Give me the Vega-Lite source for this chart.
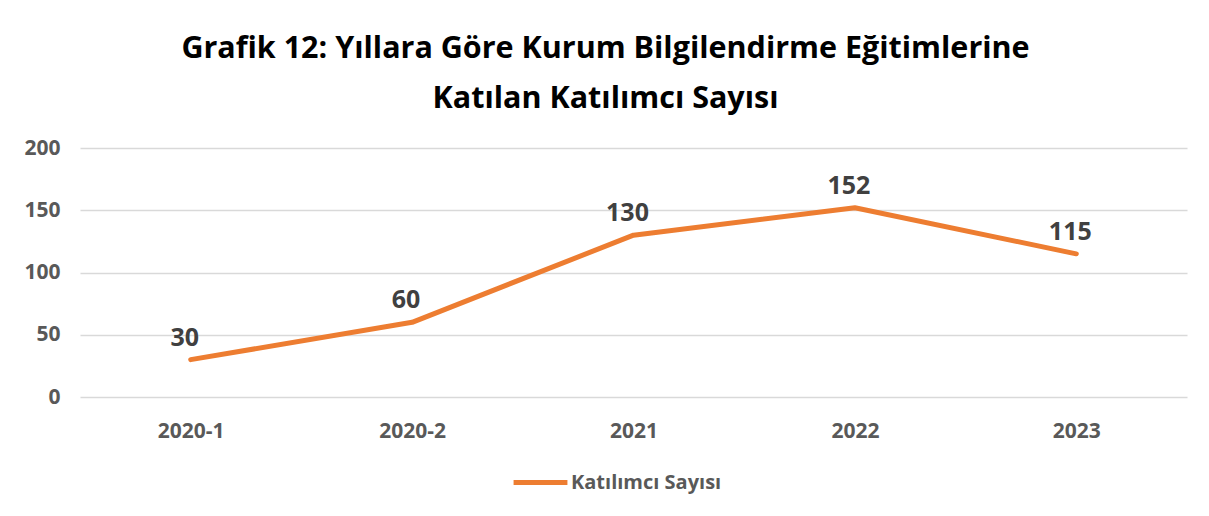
{
  "$schema": "https://vega.github.io/schema/vega-lite/v6.json",
  "width": 1107,
  "height": 249,
  "autosize": {"type": "none"},
  "padding": {"left": 80, "top": 148, "right": 22, "bottom": 119},
  "background": "white",
  "title": {
    "text": ["Grafik 12: Yıllara Göre Kurum Bilgilendirme Eğitimlerine", "Katılan Katılımcı Sayısı"],
    "anchor": "middle",
    "frame": "group",
    "dx": -28,
    "offset": 23,
    "font": "Open Sans",
    "fontWeight": "bold",
    "fontSize": 30.5,
    "lineHeight": 50,
    "color": "#000000"
  },
  "data": {
    "values": [
      {"donem": "2020-1", "deger": 30, "seri": "Katılımcı Sayısı"},
      {"donem": "2020-2", "deger": 60, "seri": "Katılımcı Sayısı"},
      {"donem": "2021", "deger": 130, "seri": "Katılımcı Sayısı"},
      {"donem": "2022", "deger": 152, "seri": "Katılımcı Sayısı"},
      {"donem": "2023", "deger": 115, "seri": "Katılımcı Sayısı"}
    ]
  },
  "encoding": {
    "x": {
      "field": "donem",
      "type": "ordinal",
      "sort": null,
      "scale": {"type": "point", "padding": 0.5},
      "axis": {
        "title": null,
        "labelAngle": 0,
        "domain": false,
        "ticks": false,
        "grid": false,
        "labelPadding": 23,
        "labelFont": "Open Sans",
        "labelFontWeight": "bold",
        "labelFontSize": 21,
        "labelColor": "#595959"
      }
    },
    "y": {
      "field": "deger",
      "type": "quantitative",
      "scale": {"domain": [0, 200], "nice": false},
      "axis": {
        "title": null,
        "values": [0, 50, 100, 150, 200],
        "domain": false,
        "ticks": false,
        "grid": true,
        "gridColor": "#d9d9d9",
        "gridWidth": 1.5,
        "labelPadding": 20,
        "labelFont": "Open Sans",
        "labelFontWeight": "bold",
        "labelFontSize": 21,
        "labelColor": "#595959"
      }
    }
  },
  "layer": [
    {
      "mark": {"type": "line", "strokeWidth": 5, "strokeCap": "round", "strokeJoin": "round"},
      "encoding": {
        "color": {
          "field": "seri",
          "type": "nominal",
          "scale": {"range": ["#ED7D31"]},
          "legend": {
            "title": null,
            "orient": "none",
            "legendX": 431,
            "legendY": 305,
            "symbolType": "stroke",
            "symbolSize": 2900,
            "symbolStrokeWidth": 5,
            "labelFont": "Open Sans",
            "labelFontSize": 20,
            "labelFontWeight": "bold",
            "labelColor": "#595959",
            "labelOffset": 1
          }
        }
      }
    },
    {
      "mark": {"type": "text", "dy": -22, "dx": -6, "font": "Open Sans", "fontWeight": "bold", "fontSize": 25, "color": "#404040"},
      "encoding": {
        "text": {"field": "deger", "type": "quantitative"}
      }
    }
  ],
  "config": {"view": {"stroke": null}}
}
